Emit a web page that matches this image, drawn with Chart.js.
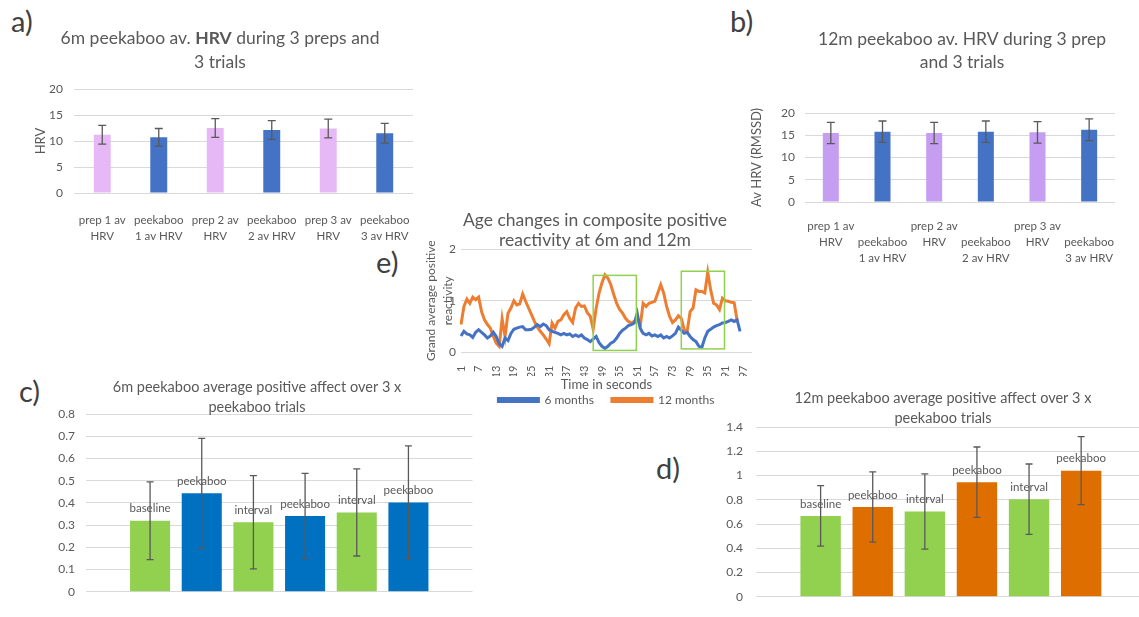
<!DOCTYPE html>
<html>
<head>
<meta charset="utf-8">
<script src="https://cdn.jsdelivr.net/npm/chart.js@4.4.1/dist/chart.umd.min.js"></script>
<style>
  html, body { margin: 0; padding: 0; background: #ffffff; width: 1139px; height: 617px; overflow: hidden; }
  .panel { position: absolute; }
  .panel canvas { display: block; }
  .tag { position: absolute; font-family: Lato, 'Noto Sans', sans-serif; font-size: 29px; color: #404040; line-height: 1; }
</style>
</head>
<body>
<div class="tag" style="left:11px;top:6px">a)</div>
<div class="tag" style="left:730px;top:6px">b)</div>
<div class="tag" style="left:19px;top:376px">c)</div>
<div class="tag" style="left:656px;top:453px">d)</div>
<div class="tag" style="left:376px;top:247px">e)</div>

<div class="panel" style="left:0px;top:0px"><canvas id="hrv6" width="430" height="250"></canvas></div>
<div class="panel" style="left:720px;top:0px"><canvas id="hrv12" width="419" height="262"></canvas></div>
<div class="panel" style="left:0px;top:370px"><canvas id="affect6" width="480" height="240"></canvas></div>
<div class="panel" style="left:640px;top:370px"><canvas id="affect12" width="499" height="247"></canvas></div>
<div class="panel" style="left:375px;top:195px"><canvas id="reactivity" width="395" height="221"></canvas></div>

<script>
const FONT = "Lato, 'Noto Sans', sans-serif";
Chart.defaults.font.family = FONT;
Chart.defaults.color = '#595959';
Chart.defaults.animation = false;
const GRID = '#D9D9D9';
const INK = '#595959';

// ---- a) HRV at 6 months ----
const hrv6Labels = [['prep 1 av', 'HRV'], ['peekaboo', '1 av HRV'], ['prep 2 av', 'HRV'],
                    ['peekaboo', '2 av HRV'], ['prep 3 av', 'HRV'], ['peekaboo', '3 av HRV']];
const hrv6Values = [11.2, 10.7, 12.5, 12.1, 12.4, 11.5];
const hrv6Errors = [1.8, 1.7, 1.8, 1.8, 1.8, 1.9];

// ---- b) HRV at 12 months (labels staggered over two rows) ----
const hrv12Labels = [['prep 1 av', 'HRV'], ['', 'peekaboo', '1 av HRV'], ['prep 2 av', 'HRV'],
                     ['', 'peekaboo', '2 av HRV'], ['prep 3 av', 'HRV'], ['', 'peekaboo', '3 av HRV']];
const hrv12Values = [15.5, 15.8, 15.5, 15.8, 15.65, 16.25];
const hrv12Errors = [2.4, 2.4, 2.4, 2.4, 2.4, 2.45];

// ---- c) / d) positive affect per phase ----
const phaseNames = ['baseline', 'peekaboo', 'interval', 'peekaboo', 'interval', 'peekaboo'];
const affect6Values = [0.32, 0.443, 0.313, 0.341, 0.357, 0.402];
const affect6Errors = [0.175, 0.247, 0.21, 0.192, 0.196, 0.255];
const affect12Values = [0.667, 0.74, 0.703, 0.945, 0.805, 1.04];
const affect12Errors = [0.25, 0.29, 0.31, 0.29, 0.29, 0.28];

// ---- e) second-by-second composite positive reactivity ----
const secondLabels = Array.from({ length: 100 }, (_, i) => String(i + 1));
const reactivity6m = [
  0.32, 0.41, 0.36, 0.34, 0.29, 0.39, 0.44, 0.39, 0.34, 0.28,
  0.32, 0.39, 0.31, 0.17, 0.12, 0.28, 0.23, 0.37, 0.45, 0.47,
  0.49, 0.50, 0.44, 0.44, 0.45, 0.49, 0.54, 0.50, 0.55, 0.52,
  0.44, 0.41, 0.39, 0.37, 0.34, 0.37, 0.34, 0.36, 0.31, 0.34,
  0.31, 0.34, 0.28, 0.25, 0.21, 0.26, 0.31, 0.19, 0.12, 0.08,
  0.12, 0.18, 0.21, 0.28, 0.37, 0.43, 0.47, 0.52, 0.54, 0.57,
  0.76, 0.47, 0.37, 0.34, 0.37, 0.32, 0.34, 0.31, 0.34, 0.28,
  0.31, 0.28, 0.32, 0.37, 0.49, 0.43, 0.37, 0.39, 0.31, 0.25,
  0.21, 0.12, 0.10, 0.28, 0.41, 0.45, 0.49, 0.52, 0.54, 0.57,
  0.58, 0.60, 0.63, 0.60, 0.63, 0.41
];
const reactivity12m = [
  0.54, 0.89, 1.03, 0.95, 1.07, 1.02, 1.07, 0.79, 0.63, 0.54,
  0.47, 0.31, 0.18, 0.12, 0.65, 0.31, 0.76, 0.86, 1.00, 0.92,
  0.94, 1.13, 0.99, 0.86, 0.73, 0.60, 0.49, 0.41, 0.34, 0.26,
  0.17, 0.57, 0.47, 0.60, 0.63, 0.73, 0.79, 0.66, 0.58, 0.86,
  0.95, 0.89, 0.90, 0.77, 0.70, 0.45, 0.85, 1.15, 1.35, 1.50,
  1.44, 1.31, 1.12, 0.95, 0.83, 0.76, 0.66, 0.60, 0.57, 0.60,
  0.66, 0.50, 0.95, 0.89, 0.95, 0.97, 0.99, 1.15, 1.31, 1.15,
  0.89, 0.70, 0.58, 0.63, 0.71, 0.66, 0.44, 0.41, 0.79, 0.86,
  1.21, 1.18, 1.18, 1.15, 1.55, 1.21, 0.95, 0.92, 0.83, 1.05,
  1.00, 0.99, 0.97, 0.96, 0.62, null
];
// highlighted peekaboo windows (seconds, reactivity)
const windowStart = [46, 76];
const windowEnd = [60.7, 90.7];
const windowLow = [0.04, 0.07];
const windowHigh = [1.49, 1.57];

// ---------- shared helpers ----------
function headline(x, ys, size, lines) {
  return {
    id: 'headline',
    afterDraw(chart) {
      const ctx = chart.ctx;
      ctx.save();
      ctx.fillStyle = INK;
      ctx.textBaseline = 'middle';
      ctx.textAlign = 'left';
      lines.forEach((parts, i) => {
        const segs = parts.map(p => ({ text: p.text, font: (p.bold ? 'bold ' : '') + size + 'px ' + FONT }));
        let total = 0;
        segs.forEach(s => { ctx.font = s.font; s.w = ctx.measureText(s.text).width; total += s.w; });
        let cx = x - total / 2;
        segs.forEach(s => { ctx.font = s.font; ctx.fillText(s.text, cx, ys[i]); cx += s.w; });
      });
      ctx.restore();
    }
  };
}

function errorBars(values, errors, cap, color) {
  return {
    id: 'errorBars',
    afterDatasetsDraw(chart) {
      const ctx = chart.ctx;
      const meta = chart.getDatasetMeta(0);
      const yScale = chart.scales.y;
      ctx.save();
      ctx.strokeStyle = color;
      ctx.lineWidth = 1.3;
      meta.data.forEach((bar, i) => {
        const top = yScale.getPixelForValue(values[i] + errors[i]);
        const bottom = yScale.getPixelForValue(values[i] - errors[i]);
        ctx.beginPath();
        ctx.moveTo(bar.x, top); ctx.lineTo(bar.x, bottom);
        ctx.moveTo(bar.x - cap, top); ctx.lineTo(bar.x + cap, top);
        ctx.moveTo(bar.x - cap, bottom); ctx.lineTo(bar.x + cap, bottom);
        ctx.stroke();
      });
      ctx.restore();
    }
  };
}

function barNotes(names) {
  return {
    id: 'barNotes',
    afterDatasetsDraw(chart) {
      const ctx = chart.ctx;
      const meta = chart.getDatasetMeta(0);
      ctx.save();
      ctx.fillStyle = INK;
      ctx.font = '11.5px ' + FONT;
      ctx.textAlign = 'center';
      ctx.textBaseline = 'middle';
      meta.data.forEach((bar, i) => ctx.fillText(names[i], bar.x, bar.y - 12));
      ctx.restore();
    }
  };
}

function fixedWidth(w) { return scale => { scale.width = w; }; }
function fixedHeight(h) { return scale => { scale.height = h; }; }
const plainNumber = v => String(Number(v.toFixed(2)));

// ---------- a) and b) ----------
function hrvChart(id, labels, values, errors, prepColor, cfg) {
  const colors = labels.map((_, i) => (i % 2 === 0 ? prepColor : '#4472C4'));
  return new Chart(document.getElementById(id), {
    type: 'bar',
    data: {
      labels: labels,
      datasets: [{ data: values, backgroundColor: colors, barPercentage: cfg.bar, categoryPercentage: 1 }]
    },
    options: {
      responsive: false,
      layout: { padding: cfg.padding },
      plugins: { legend: { display: false }, tooltip: { enabled: false } },
      scales: {
        x: {
          grid: { display: false },
          border: { display: false },
          ticks: { font: { size: 11.5, lineHeight: cfg.lh }, padding: cfg.xPad, maxRotation: 0, autoSkip: false, color: INK },
          afterFit: fixedHeight(cfg.xHeight)
        },
        y: {
          min: 0, max: 20,
          ticks: { stepSize: 5, font: { size: 12 }, padding: cfg.yPad, color: INK },
          grid: { color: GRID, drawTicks: false },
          border: { display: false },
          title: { display: true, text: cfg.yTitle, font: { size: 13 }, color: INK, padding: { top: cfg.titlePad, bottom: 0 } },
          afterFit: fixedWidth(cfg.yWidth)
        }
      }
    },
    plugins: [errorBars(values, errors, 4, INK), headline(cfg.tx, cfg.ty, 17.5, cfg.title)]
  });
}

hrvChart('hrv6', hrv6Labels, hrv6Values, hrv6Errors, '#E6B9F6', {
  bar: 0.30, padding: { top: 89, right: 17, left: 0, bottom: 0 }, xHeight: 57, yWidth: 74,
  lh: 1.39, xPad: 11, yPad: 11, titlePad: 33, yTitle: 'HRV',
  tx: 220, ty: [38, 62],
  title: [[{ text: '6m peekaboo av. ' }, { text: 'HRV', bold: true }, { text: ' during 3 preps and' }], [{ text: '3 trials' }]]
});

hrvChart('hrv12', hrv12Labels, hrv12Values, hrv12Errors, '#C59EF2', {
  bar: 0.31, padding: { top: 113, right: 24, left: 0, bottom: 0 }, xHeight: 60, yWidth: 85,
  lh: 1.35, xPad: 9, yPad: 10, titlePad: 29, yTitle: 'Av HRV (RMSSD)',
  tx: 242, ty: [39, 62],
  title: [[{ text: '12m peekaboo av. HRV during 3 prep' }], [{ text: 'and 3 trials' }]]
});

// ---------- c) and d) ----------
function affectChart(id, values, errors, peekColor, cfg) {
  const colors = values.map((_, i) => (i % 2 === 0 ? '#92D050' : peekColor));
  return new Chart(document.getElementById(id), {
    type: 'bar',
    data: {
      datasets: [{
        data: values.map((v, i) => ({ x: i + 1, y: v })),
        backgroundColor: colors, barPercentage: 0.775, categoryPercentage: 1
      }]
    },
    options: {
      responsive: false,
      layout: { padding: cfg.padding },
      plugins: { legend: { display: false }, tooltip: { enabled: false } },
      scales: {
        x: { type: 'linear', offset: false, min: -0.24, max: cfg.xMax, display: false },
        y: {
          min: 0, max: cfg.max,
          ticks: { stepSize: cfg.step, font: { size: 12 }, padding: cfg.yPad, color: INK, callback: plainNumber },
          grid: { color: GRID, drawTicks: false },
          border: { display: false },
          afterFit: fixedWidth(cfg.yWidth)
        }
      }
    },
    plugins: [errorBars(values, errors, 3.5, INK), barNotes(phaseNames), headline(cfg.tx, cfg.ty, 14.5, cfg.title)]
  });
}

affectChart('affect6', affect6Values, affect6Errors, '#0070C0', {
  padding: { top: 44, right: 7.5, left: 0, bottom: 6 }, yWidth: 86, yPad: 11, max: 0.8, step: 0.1, xMax: 7.24,
  tx: 257, ty: [17, 37],
  title: [[{ text: '6m peekaboo average positive affect over 3 x' }], [{ text: 'peekaboo trials' }]]
});

affectChart('affect12', affect12Values, affect12Errors, '#DE6E00', {
  padding: { top: 57, right: 0, left: 0, bottom: 4 }, yWidth: 116, yPad: 13, max: 1.4, step: 0.2, xMax: 7.11,
  tx: 303, ty: [28, 48],
  title: [[{ text: '12m peekaboo average positive affect over 3 x' }], [{ text: 'peekaboo trials' }]]
});

// ---------- e) reactivity over time ----------
const windowsPlugin = {
  id: 'windows',
  afterDatasetsDraw(chart) {
    const { ctx, scales: { x, y } } = chart;
    ctx.save();
    ctx.strokeStyle = '#92D050';
    ctx.lineWidth = 1.5;
    windowStart.forEach((s, i) => {
      const x1 = x.getPixelForValue(s - 1), x2 = x.getPixelForValue(windowEnd[i] - 1);
      const y1 = y.getPixelForValue(windowHigh[i]), y2 = y.getPixelForValue(windowLow[i]);
      ctx.strokeRect(x1, y1, x2 - x1, y2 - y1);
    });
    ctx.restore();
  }
};

new Chart(document.getElementById('reactivity'), {
  type: 'line',
  data: {
    labels: secondLabels,
    datasets: [
      { label: '6 months', data: reactivity6m, borderColor: '#4472C4', backgroundColor: '#4472C4', borderWidth: 3, pointRadius: 0, tension: 0 },
      { label: '12 months', data: reactivity12m, borderColor: '#ED7D31', backgroundColor: '#ED7D31', borderWidth: 3, pointRadius: 0, tension: 0 }
    ]
  },
  options: {
    responsive: false,
    layout: { padding: { top: 54, right: 10, left: 0, bottom: 0 } },
    plugins: {
      tooltip: { enabled: false },
      legend: {
        position: 'bottom', fullSize: false, align: 'center',
        labels: { boxWidth: 40, boxHeight: 3, padding: 18, font: { size: 12 }, color: INK }
      }
    },
    scales: {
      x: {
        grid: { display: false },
        border: { display: false },
        ticks: {
          autoSkip: false, minRotation: 90, maxRotation: 90, padding: 5, font: { size: 11 }, color: INK,
          callback: (v, i) => (i % 6 === 0 ? secondLabels[i] : '')
        },
        title: { display: true, text: 'Time in seconds', font: { size: 13 }, color: INK, padding: { top: 0, bottom: -16.8 } },
        afterFit: fixedHeight(23.5)
      },
      y: {
        min: 0, max: 2,
        ticks: { stepSize: 1, font: { size: 12 }, padding: 5, color: INK },
        grid: { color: GRID, drawTicks: false },
        border: { display: false },
        title: { display: true, text: ['Grand average positive', 'reactivity'], font: { size: 12, lineHeight: 1.4 }, color: INK, padding: { top: 47.6, bottom: 0 } },
        afterFit: fixedWidth(86)
      }
    }
  },
  plugins: [windowsPlugin, headline(220, [25, 45], 17.5, [[{ text: 'Age changes in composite positive' }], [{ text: 'reactivity at 6m and 12m' }]])]
});
</script>
</body>
</html>
